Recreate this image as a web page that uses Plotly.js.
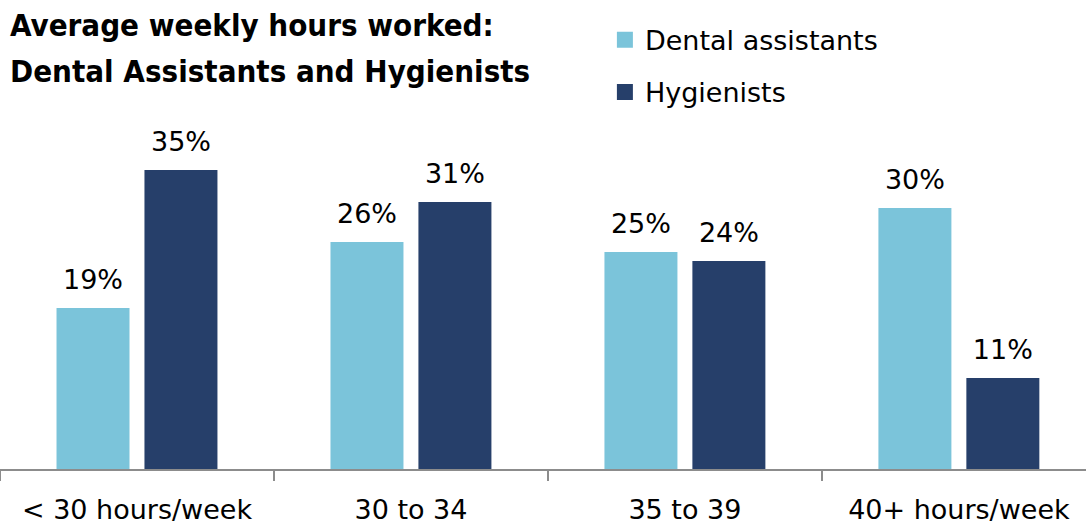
<!DOCTYPE html>
<html><head><meta charset="utf-8">
<script src="https://cdn.plot.ly/plotly-3.0.1.min.js"></script>
<style>
html,body{margin:0;padding:0;background:#fff;}
#chart{width:1086px;height:525px;}
#chart .annotation-text{font-stretch:condensed;}
</style>
</head><body><div id="chart"></div>
<script>
const categories = ['< 30 hours/week', '30 to 34', '35 to 39', '40+ hours/week'];
const dentalAssistants = [18.68, 26.33, 25.17, 30.28];
const hygienists = [34.69, 30.97, 24.13, 10.56];
const seriesNames = ['Dental assistants', 'Hygienists'];
const titleLines = ['Average weekly hours worked:', 'Dental Assistants and Hygienists'];

const colors = ['#7BC4DA', '#263F6A'];
const labelPad = 1.15;
const fmt = v => Math.round(v) + '%';
const bodyFont = {family: 'DejaVu Sans, Verdana, sans-serif', size: 27, color: '#000'};
const titleFont = {family: 'DejaVu Sans Condensed, DejaVu Sans, sans-serif', size: 31, weight: 'bold', color: '#000'};

function seriesTraces(values, name, color, group) {
  return [
    {type: 'bar', x: categories, y: values, name: name, offsetgroup: group, legendgroup: group,
     showlegend: false, marker: {color: color, line: {width: 0}}, hoverinfo: 'x+y+name'},
    {type: 'bar', x: categories, y: values.map(() => labelPad), base: values, offsetgroup: group,
     legendgroup: group, showlegend: false, marker: {color: 'rgba(0,0,0,0)'},
     text: values.map(fmt), texttemplate: '%{text}', textposition: 'outside', constraintext: 'none',
     textfont: bodyFont, cliponaxis: false, hoverinfo: 'skip'},
    {type: 'scatter', mode: 'markers', x: [null], y: [null], name: name, legendgroup: group,
     showlegend: true, marker: {symbol: 'square', size: 17, color: color}, hoverinfo: 'skip'}
  ];
}

const data = [
  ...seriesTraces(dentalAssistants, seriesNames[0], colors[0], 'da'),
  ...seriesTraces(hygienists, seriesNames[1], colors[1], 'hy')
];

const layout = {
  width: 1086, height: 525,
  paper_bgcolor: '#fff', plot_bgcolor: '#fff',
  margin: {l: 0, r: 0, t: 0, b: 56},
  barmode: 'group', bargap: 0.358, bargroupgap: 0.17,
  annotations: titleLines.map((line, i) => ({
    text: line, showarrow: false, xref: 'paper', yref: 'paper',
    x: 0.007, y: 1, xanchor: 'left', yanchor: 'top', align: 'left', yshift: -5 - 46 * i,
    font: titleFont
  })),
  xaxis: {type: 'category', range: [-0.5, 3.464], tickson: 'boundaries', ticks: 'outside',
          ticklen: 10, tickwidth: 2, tickcolor: '#8c8c8c', showline: true, linecolor: '#8c8c8c',
          linewidth: 2, showgrid: false, tickfont: bodyFont, ticklabelstandoff: 16, fixedrange: true},
  yaxis: {range: [0, 54.4], showgrid: false, zeroline: false, showticklabels: false,
          showline: false, ticks: '', fixedrange: true},
  legend: {x: 0.557, y: 0.9664, xanchor: 'left', yanchor: 'top', font: bodyFont,
           tracegroupgap: 14, bgcolor: 'rgba(0,0,0,0)', borderwidth: 0, itemsizing: 'trace'},
  showlegend: true
};

Plotly.newPlot('chart', data, layout, {displayModeBar: false, staticPlot: true});
</script></body></html>
